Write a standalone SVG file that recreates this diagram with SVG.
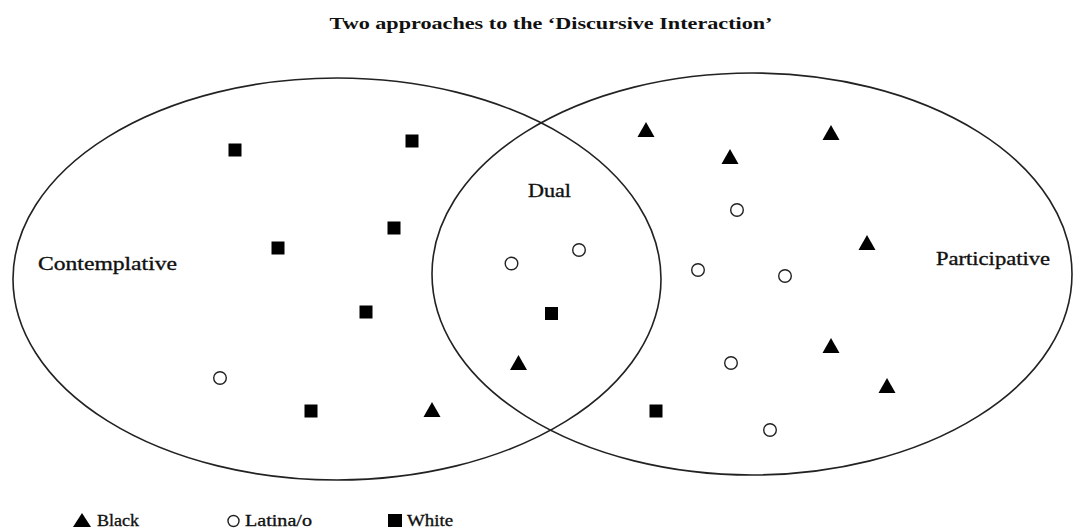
<svg xmlns="http://www.w3.org/2000/svg" width="1073" height="529" viewBox="0 0 1073 529">
<defs>
<style>
.lbl{font-family:"Liberation Serif","DejaVu Serif",serif;fill:#111;stroke:#111;stroke-width:0.35;}
.title{font-family:"Liberation Serif","DejaVu Serif",serif;font-weight:bold;font-size:17px;fill:#111;}
.ell{fill:none;stroke:#222;stroke-width:1.6;}
.sq{fill:#000;}
.tri{fill:#000;}
.cir{fill:#fff;stroke:#222;stroke-width:1.4;}
</style>
<rect id="s" class="sq" x="-6.5" y="-6.5" width="13" height="13"/>
<path id="t" class="tri" d="M0,-8 L8.5,7 L-8.5,7 Z"/>
<circle id="c" class="cir" r="6.3"/>
</defs>
<rect width="1073" height="529" fill="#fff"/>
<text class="title" x="551" y="29" text-anchor="middle" textLength="443" lengthAdjust="spacingAndGlyphs">Two approaches to the ‘Discursive Interaction’</text>
<g id="contemplative">
<ellipse class="ell" cx="337" cy="279" rx="324" ry="201"/>
<text class="lbl" x="38" y="270" font-size="19" textLength="139" lengthAdjust="spacingAndGlyphs">Contemplative</text>
</g>
<g id="participative">
<ellipse class="ell" cx="752" cy="274" rx="320" ry="201"/>
<text class="lbl" x="936" y="265" font-size="19" textLength="114" lengthAdjust="spacingAndGlyphs">Participative</text>
</g>
<g id="dual">
<text class="lbl" x="528" y="197" font-size="19" textLength="43" lengthAdjust="spacingAndGlyphs">Dual</text>
</g>
<g id="markers">
<use href="#s" x="235" y="150"/>
<use href="#s" x="412" y="141"/>
<use href="#s" x="278" y="248"/>
<use href="#s" x="394" y="228"/>
<use href="#s" x="366" y="312"/>
<use href="#s" x="311" y="411"/>
<use href="#c" x="220" y="378"/>
<use href="#t" x="432" y="410"/>
<use href="#c" x="511.5" y="263.5"/>
<use href="#c" x="579" y="250"/>
<use href="#s" x="551.5" y="313.5"/>
<use href="#t" x="518.5" y="363"/>
<use href="#t" x="646" y="130"/>
<use href="#t" x="730" y="157"/>
<use href="#t" x="831" y="133"/>
<use href="#t" x="867" y="243"/>
<use href="#t" x="831" y="346"/>
<use href="#t" x="887" y="386"/>
<use href="#c" x="737" y="210"/>
<use href="#c" x="698" y="270"/>
<use href="#c" x="785" y="276"/>
<use href="#c" x="731" y="363"/>
<use href="#c" x="770" y="430"/>
<use href="#s" x="656" y="411"/>
</g>
<g id="legend">
<path class="tri" d="M82,513 L91,527 L73,527 Z"/>
<text class="lbl" x="97" y="526" font-size="17" textLength="42" lengthAdjust="spacingAndGlyphs">Black</text>
<circle class="cir" cx="233.5" cy="521" r="5.5"/>
<text class="lbl" x="245" y="526" font-size="17" textLength="67" lengthAdjust="spacingAndGlyphs">Latina/o</text>
<rect class="sq" x="388" y="514" width="14" height="13"/>
<text class="lbl" x="407" y="526" font-size="17" textLength="46" lengthAdjust="spacingAndGlyphs">White</text>
</g>
</svg>
